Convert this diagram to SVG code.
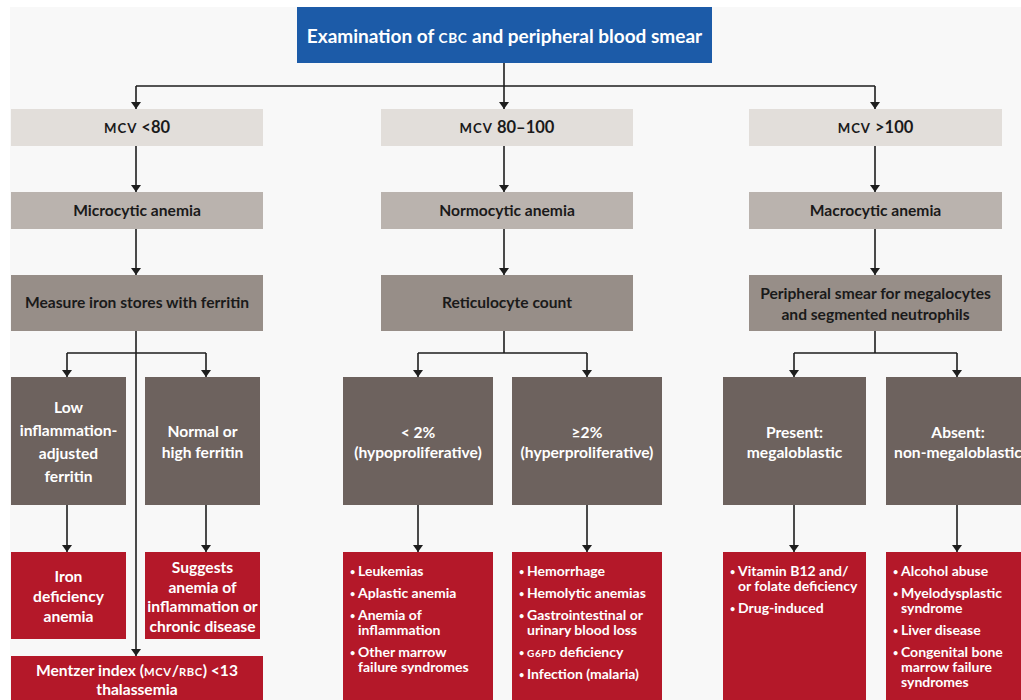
<svg xmlns="http://www.w3.org/2000/svg" width="1021" height="700" viewBox="0 0 1021 700">
<defs>
<marker id="ah" markerUnits="userSpaceOnUse" markerWidth="8" markerHeight="10" refX="7" refY="5" orient="auto" viewBox="0 0 8 10">
<path d="M0,0 L7,5 L0,10 Z" fill="#1e1e1e"/>
</marker>
<style>
text{font-family:Lato,"Noto Sans","Liberation Sans",sans-serif;}
.t{font-size:19px;fill:#fff;font-weight:bold;text-anchor:middle;}
.d{font-size:15.6px;fill:#1a1a1a;font-weight:bold;text-anchor:middle;}
.d1{font-size:16.5px;fill:#1a1a1a;font-weight:bold;text-anchor:middle;}
.w{font-size:15.6px;fill:#fff;font-weight:bold;text-anchor:middle;}
.l{font-size:14px;fill:#fff;font-weight:bold;}
.b{font-size:9px;}
.sc{font-size:0.72em;letter-spacing:0.6px;}
.sc1{font-size:0.8em;letter-spacing:1px;}
.c{fill:none;stroke:#1e1e1e;stroke-width:1.6;}
.ca{fill:none;stroke:#1e1e1e;stroke-width:1.6;marker-end:url(#ah);}
.r1{fill:#e2deda;}
.r2{fill:#bab3ae;}
.r3{fill:#978e88;}
.r4{fill:#6d625e;}
.r5{fill:#b41829;}
</style>
</defs>
<rect x="0" y="0" width="1021" height="700" fill="#ffffff"/>
<rect x="10" y="7" width="1011" height="693" fill="#f8f8f8"/>

<g id="connectors">
<path class="c" d="M504,63 V86 M136,86 H875"/>
<path class="ca" d="M136,86 V109"/>
<path class="ca" d="M504,86 V109"/>
<path class="ca" d="M875,86 V109"/>
<path class="ca" d="M136,146 V192"/>
<path class="ca" d="M504,146 V192"/>
<path class="ca" d="M875,146 V192"/>
<path class="ca" d="M136,229 V275"/>
<path class="ca" d="M504,229 V275"/>
<path class="ca" d="M875,229 V275"/>
<path class="c" d="M67,353 H206"/>
<path class="ca" d="M67,353 V377"/>
<path class="ca" d="M206,353 V377"/>
<path class="ca" d="M136,331 V656"/>
<path class="c" d="M504,331 V353 M418,353 H587"/>
<path class="ca" d="M418,353 V377"/>
<path class="ca" d="M587,353 V377"/>
<path class="c" d="M875,331 V353 M794,353 H957"/>
<path class="ca" d="M794,353 V377"/>
<path class="ca" d="M957,353 V377"/>
<path class="ca" d="M67,505 V552"/>
<path class="ca" d="M206,505 V552"/>
<path class="ca" d="M418,505 V552"/>
<path class="ca" d="M587,505 V552"/>
<path class="ca" d="M794,505 V552"/>
<path class="ca" d="M957,505 V552"/>
</g>

<g id="n-title">
<rect x="297" y="7" width="415" height="56" fill="#1c5ba8"/>
<text class="t" x="504.5" y="43">Examination of <tspan class="sc">CBC</tspan> and peripheral blood smear</text>
</g>

<g id="n-mcv-low">
<rect class="r1" x="11" y="109" width="252" height="37"/>
<text class="d1" x="137" y="133"><tspan class="sc1">MCV</tspan> &lt;80</text>
</g>
<g id="n-mcv-mid">
<rect class="r1" x="381" y="109" width="252" height="37"/>
<text class="d1" x="507" y="133"><tspan class="sc1">MCV</tspan> 80–100</text>
</g>
<g id="n-mcv-high">
<rect class="r1" x="749" y="109" width="253" height="37"/>
<text class="d1" x="875.5" y="133"><tspan class="sc1">MCV</tspan> &gt;100</text>
</g>

<g id="n-micro">
<rect class="r2" x="11" y="192" width="252" height="37"/>
<text class="d" x="137" y="216">Microcytic anemia</text>
</g>
<g id="n-normo">
<rect class="r2" x="381" y="192" width="252" height="37"/>
<text class="d" x="507" y="216">Normocytic anemia</text>
</g>
<g id="n-macro">
<rect class="r2" x="749" y="192" width="253" height="37"/>
<text class="d" x="875.5" y="216">Macrocytic anemia</text>
</g>

<g id="n-ferritin">
<rect class="r3" x="11" y="275" width="252" height="56"/>
<text class="d" x="137" y="308">Measure iron stores with ferritin</text>
</g>
<g id="n-retic">
<rect class="r3" x="381" y="275" width="252" height="56"/>
<text class="d" x="507" y="308">Reticulocyte count</text>
</g>
<g id="n-smear">
<rect class="r3" x="749" y="275" width="253" height="56"/>
<text class="d" x="875.5" y="299">Peripheral smear for megalocytes</text>
<text class="d" x="875.5" y="320">and segmented neutrophils</text>
</g>

<g id="n-low">
<rect class="r4" x="11" y="377" width="115" height="128"/>
<text class="w" x="68.5" y="413">Low</text>
<text class="w" x="68.5" y="436">inflammation-</text>
<text class="w" x="68.5" y="459">adjusted</text>
<text class="w" x="68.5" y="482">ferritin</text>
</g>
<g id="n-normal">
<rect class="r4" x="145" y="377" width="115" height="128"/>
<text class="w" x="202.5" y="437">Normal or</text>
<text class="w" x="202.5" y="458">high ferritin</text>
</g>
<g id="n-hypo">
<rect class="r4" x="343" y="377" width="150" height="128"/>
<text class="w" x="418" y="438">&lt; 2%</text>
<text class="w" x="418" y="458">(hypoproliferative)</text>
</g>
<g id="n-hyper">
<rect class="r4" x="512" y="377" width="150" height="128"/>
<text class="w" x="587" y="438">≥2%</text>
<text class="w" x="587" y="458">(hyperproliferative)</text>
</g>
<g id="n-present">
<rect class="r4" x="723" y="377" width="143" height="128"/>
<text class="w" x="794.5" y="438">Present:</text>
<text class="w" x="794.5" y="458">megaloblastic</text>
</g>
<g id="n-absent">
<rect class="r4" x="886" y="377" width="145" height="128"/>
<text class="w" x="958" y="438">Absent:</text>
<text class="w" x="958" y="458">non-megaloblastic</text>
</g>

<g id="n-ida">
<rect class="r5" x="11" y="552" width="115" height="87"/>
<text class="w" x="68.5" y="582">Iron</text>
<text class="w" x="68.5" y="602">deficiency</text>
<text class="w" x="68.5" y="622">anemia</text>
</g>
<g id="n-acd">
<rect class="r5" x="145" y="552" width="115" height="87"/>
<text class="w" x="202.5" y="573">Suggests</text>
<text class="w" x="202.5" y="593">anemia of</text>
<text class="w" x="202.5" y="612">inflammation or</text>
<text class="w" x="202.5" y="632">chronic disease</text>
</g>
<g id="n-mentzer">
<rect class="r5" x="11" y="656" width="252" height="50"/>
<text class="w" x="137" y="676">Mentzer index (<tspan class="sc">MCV</tspan>/<tspan class="sc">RBC</tspan>) &lt;13</text>
<text class="w" x="137" y="695">thalassemia</text>
</g>

<g id="n-hypo-list">
<rect class="r5" x="343" y="552" width="150" height="160"/>
<text class="l" y="576"><tspan class="b" x="350" dy="-1">•</tspan><tspan x="358" dy="1">Leukemias</tspan></text>
<text class="l" y="598"><tspan class="b" x="350" dy="-1">•</tspan><tspan x="358" dy="1">Aplastic anemia</tspan></text>
<text class="l" y="620"><tspan class="b" x="350" dy="-1">•</tspan><tspan x="358" dy="1">Anemia of</tspan></text>
<text class="l" x="358" y="635">inflammation</text>
<text class="l" y="657"><tspan class="b" x="350" dy="-1">•</tspan><tspan x="358" dy="1">Other marrow</tspan></text>
<text class="l" x="358" y="672">failure syndromes</text>
</g>
<g id="n-hyper-list">
<rect class="r5" x="512" y="552" width="150" height="160"/>
<text class="l" y="576"><tspan class="b" x="519" dy="-1">•</tspan><tspan x="527" dy="1">Hemorrhage</tspan></text>
<text class="l" y="598"><tspan class="b" x="519" dy="-1">•</tspan><tspan x="527" dy="1">Hemolytic anemias</tspan></text>
<text class="l" y="620"><tspan class="b" x="519" dy="-1">•</tspan><tspan x="527" dy="1">Gastrointestinal or</tspan></text>
<text class="l" x="527" y="635">urinary blood loss</text>
<text class="l" y="657"><tspan class="b" x="519" dy="-1">•</tspan><tspan x="527" dy="1"><tspan class="sc">G6PD</tspan> deficiency</tspan></text>
<text class="l" y="679"><tspan class="b" x="519" dy="-1">•</tspan><tspan x="527" dy="1">Infection (malaria)</tspan></text>
</g>
<g id="n-mega-list">
<rect class="r5" x="723" y="552" width="143" height="160"/>
<text class="l" y="576"><tspan class="b" x="730" dy="-1">•</tspan><tspan x="738" dy="1">Vitamin B12 and/</tspan></text>
<text class="l" x="738" y="591">or folate deficiency</text>
<text class="l" y="613"><tspan class="b" x="730" dy="-1">•</tspan><tspan x="738" dy="1">Drug-induced</tspan></text>
</g>
<g id="n-nonmega-list">
<rect class="r5" x="886" y="552" width="145" height="160"/>
<text class="l" y="576"><tspan class="b" x="893" dy="-1">•</tspan><tspan x="901" dy="1">Alcohol abuse</tspan></text>
<text class="l" y="598"><tspan class="b" x="893" dy="-1">•</tspan><tspan x="901" dy="1">Myelodysplastic</tspan></text>
<text class="l" x="901" y="613">syndrome</text>
<text class="l" y="635"><tspan class="b" x="893" dy="-1">•</tspan><tspan x="901" dy="1">Liver disease</tspan></text>
<text class="l" y="657"><tspan class="b" x="893" dy="-1">•</tspan><tspan x="901" dy="1">Congenital bone</tspan></text>
<text class="l" x="901" y="672">marrow failure</text>
<text class="l" x="901" y="687">syndromes</text>
</g>
</svg>
